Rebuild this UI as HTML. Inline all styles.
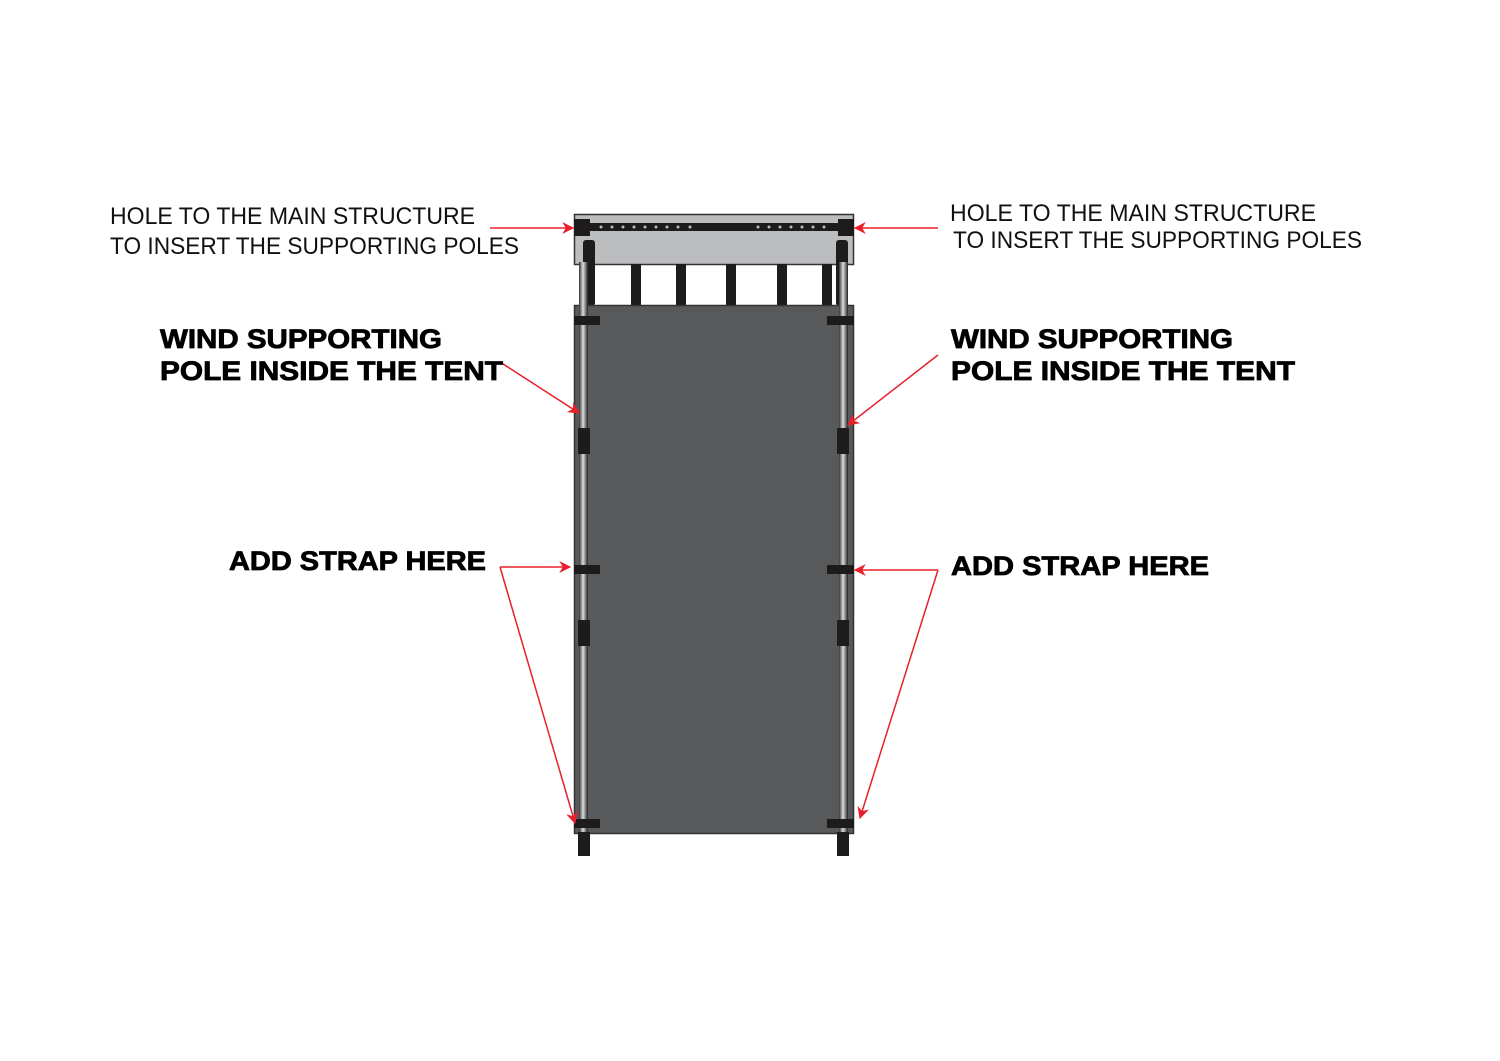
<!DOCTYPE html>
<html><head><style>html,body{margin:0;padding:0;background:#fff}svg{display:block}</style></head><body>
<svg width="1500" height="1061" viewBox="0 0 1500 1061" xmlns="http://www.w3.org/2000/svg">
<defs>
<marker id="a" viewBox="0 0 10 10" refX="9" refY="5" markerWidth="14" markerHeight="12" markerUnits="userSpaceOnUse" orient="auto"><path d="M0,0 L10,5 L0,10 L3,5 Z" fill="#e8202a"/></marker>
<linearGradient id="pole" x1="0" x2="1"><stop offset="0" stop-color="#333"/><stop offset="0.45" stop-color="#ddd"/><stop offset="1" stop-color="#222"/></linearGradient>
</defs>
<rect x="574.5" y="214.5" width="279" height="50" fill="#bcbdbf" stroke="#333" stroke-width="1.5"/>
<rect x="574" y="223" width="280" height="8" fill="#1d1b1c"/>
<rect x="574" y="219" width="16" height="17" fill="#1d1b1c"/>
<rect x="838" y="219" width="16" height="17" fill="#1d1b1c"/>
<g fill="#bbb">
<circle cx="601" cy="227" r="1.5"/><circle cx="612" cy="227" r="1.5"/><circle cx="623" cy="227" r="1.5"/><circle cx="634" cy="227" r="1.5"/><circle cx="645" cy="227" r="1.5"/><circle cx="656" cy="227" r="1.5"/><circle cx="667" cy="227" r="1.5"/><circle cx="678" cy="227" r="1.5"/><circle cx="690" cy="227" r="1.5"/>
<circle cx="758" cy="227" r="1.5"/><circle cx="769" cy="227" r="1.5"/><circle cx="780" cy="227" r="1.5"/><circle cx="791" cy="227" r="1.5"/><circle cx="802" cy="227" r="1.5"/><circle cx="813" cy="227" r="1.5"/><circle cx="824" cy="227" r="1.5"/>
</g>
<g fill="#1d1b1c">
<rect x="583" y="240" width="12" height="66" rx="3"/>
<rect x="631" y="264" width="10" height="42"/>
<rect x="676" y="264" width="10" height="42"/>
<rect x="726" y="264" width="10" height="42"/>
<rect x="777" y="264" width="10" height="42"/>
<rect x="822" y="264" width="10" height="42"/>
<rect x="836" y="240" width="12" height="66" rx="3"/>
</g>
<rect x="574.5" y="305.5" width="279" height="528" fill="#58595b" stroke="#333" stroke-width="1.5"/>
<rect x="579" y="262" width="9" height="572" fill="url(#pole)"/>
<rect x="839" y="262" width="9" height="572" fill="url(#pole)"/>
<g fill="#1d1b1c">
<rect x="574" y="316" width="26" height="9"/><rect x="574" y="565" width="26" height="9"/><rect x="574" y="819" width="26" height="9"/>
<rect x="827" y="316" width="27" height="9"/><rect x="827" y="565" width="27" height="9"/><rect x="827" y="819" width="27" height="9"/>
<rect x="578" y="428" width="12" height="26"/><rect x="578" y="620" width="12" height="26"/>
<rect x="837" y="428" width="12" height="26"/><rect x="837" y="620" width="12" height="26"/>
<rect x="578" y="832" width="12" height="24"/><rect x="837" y="832" width="12" height="24"/>
</g>
<g stroke="#e8202a" stroke-width="1.5" fill="none" marker-end="url(#a)">
<line x1="490" y1="228" x2="573" y2="228"/>
<line x1="938" y1="228" x2="855" y2="228"/>
<line x1="500" y1="362" x2="579" y2="413"/>
<line x1="938" y1="355" x2="848" y2="425"/>
<line x1="500" y1="567" x2="570" y2="567"/>
<line x1="500" y1="567" x2="575" y2="823"/>
<line x1="938" y1="570" x2="855" y2="570"/>
<line x1="938" y1="570" x2="860" y2="818"/>
</g>
<g font-family="'Liberation Sans', sans-serif" font-size="24" fill="#111">
<text x="110" y="224" textLength="365" lengthAdjust="spacingAndGlyphs">HOLE TO THE MAIN STRUCTURE</text>
<text x="110" y="254" textLength="409" lengthAdjust="spacingAndGlyphs">TO INSERT THE SUPPORTING POLES</text>
<text x="950" y="221" textLength="366" lengthAdjust="spacingAndGlyphs">HOLE TO THE MAIN STRUCTURE</text>
<text x="953" y="248" textLength="409" lengthAdjust="spacingAndGlyphs">TO INSERT THE SUPPORTING POLES</text>
</g>
<g font-family="'Liberation Sans', sans-serif" font-weight="bold" font-size="27" fill="#000" stroke="#000" stroke-width="0.8">
<text x="160" y="348" textLength="282" lengthAdjust="spacingAndGlyphs">WIND SUPPORTING</text>
<text x="160" y="380" textLength="343" lengthAdjust="spacingAndGlyphs">POLE INSIDE THE TENT</text>
<text x="229" y="570" textLength="257" lengthAdjust="spacingAndGlyphs">ADD STRAP HERE</text>
<text x="951" y="348" textLength="282" lengthAdjust="spacingAndGlyphs">WIND SUPPORTING</text>
<text x="951" y="380" textLength="344" lengthAdjust="spacingAndGlyphs">POLE INSIDE THE TENT</text>
<text x="951" y="575" textLength="258" lengthAdjust="spacingAndGlyphs">ADD STRAP HERE</text>
</g>
</svg>
</body></html>
